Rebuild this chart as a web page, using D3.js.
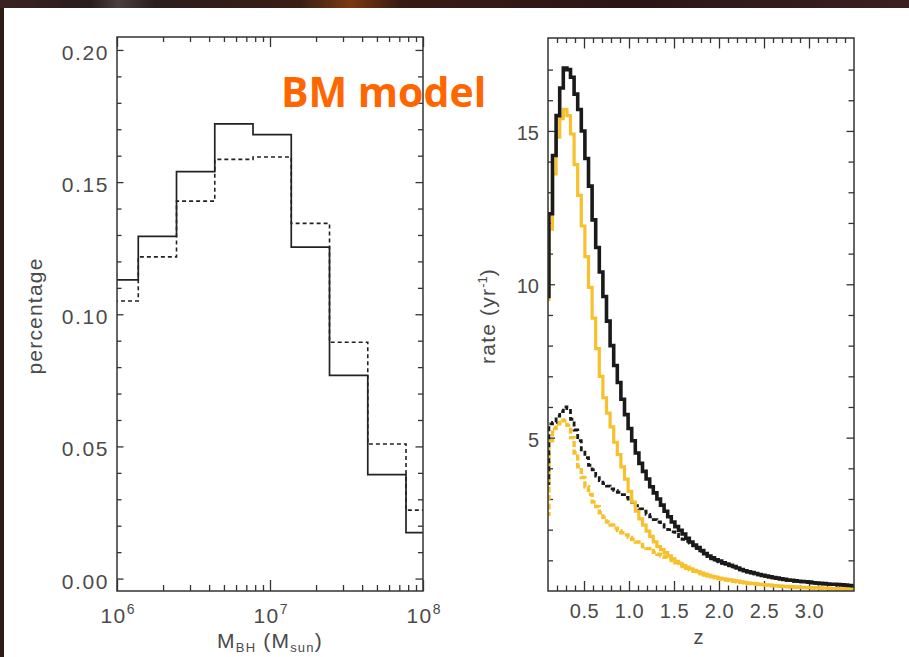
<!DOCTYPE html>
<html>
<head>
<meta charset="utf-8">
<script src="https://cdn.jsdelivr.net/npm/d3@7"></script>
<style>
  body { margin: 0; background: #1c1210; }
  svg { display: block; }
</style>
</head>
<body>
<svg id="fig" width="909" height="657"></svg>
<script>
// ---------------- data ----------------
// left panel: fraction of black holes per log10(M) bin
const massBinStart = 5.889;          // log10 of first bin edge
const massBinWidth = 0.25;           // dex
const pctSolid  = [0.113, 0.1295, 0.154, 0.172, 0.168, 0.1254, 0.0769, 0.0393, 0.0174];
const pctDashed = [0.105, 0.1217, 0.1428, 0.1586, 0.1595, 0.1344, 0.0894, 0.0509, 0.0259];
const massMajorTicks = [1e6, 1e7, 1e8];
const pctMajorTicks = [0, 0.05, 0.10, 0.15, 0.20];

// right panel: event rate per redshift bin
const zBinStart = 0.07;
const zBinWidth = 0.04;
const rateBlack = [9.6, 12.3, 14.2, 15.5, 16.4, 17.05, 17.0, 16.75, 16.2, 15.7, 15.0,
  14.1, 13.2, 12.1, 11.2, 10.4, 9.6, 8.8, 8.0, 7.35, 6.8,
  6.25, 5.75, 5.3, 4.9, 4.5, 4.16, 3.9, 3.65, 3.4, 3.2,
  3.0, 2.8, 2.6, 2.42, 2.25, 2.1, 1.98, 1.86, 1.72, 1.6,
  1.5, 1.42, 1.32, 1.22, 1.14, 1.08, 1.02, 0.98, 0.92, 0.88,
  0.84, 0.8, 0.75, 0.7, 0.66, 0.63, 0.6, 0.57, 0.54, 0.51,
  0.49, 0.46, 0.44, 0.42, 0.40, 0.38, 0.36, 0.35, 0.33, 0.32,
  0.31, 0.30, 0.29, 0.27, 0.26, 0.25, 0.24, 0.23, 0.22, 0.22,
  0.21, 0.2, 0.19, 0.18, 0.17];
const rateYellow = [9.5, 11.8, 13.6, 14.8, 15.4, 15.7, 15.5, 14.9, 13.9, 12.9, 11.9,
  10.9, 9.9, 8.9, 7.9, 7.0, 6.3, 5.8, 5.35, 4.85, 4.45,
  4.05, 3.65, 3.25, 2.9, 2.6, 2.35, 2.15, 1.95, 1.78, 1.6,
  1.45, 1.35, 1.25, 1.15, 1.05, 0.97, 0.9, 0.84, 0.78, 0.72,
  0.67, 0.63, 0.59, 0.55, 0.51, 0.48, 0.45, 0.42, 0.4, 0.38,
  0.36, 0.34, 0.32, 0.3, 0.28, 0.26, 0.25, 0.24, 0.22, 0.21,
  0.2, 0.19, 0.18, 0.17, 0.16, 0.15, 0.15, 0.14, 0.13, 0.13,
  0.12, 0.12, 0.11, 0.11, 0.1, 0.1, 0.09, 0.09, 0.08, 0.08,
  0.08, 0.07, 0.07, 0.07, 0.06];
const rateBlackDash = [3.5, 5.45, 5.5, 5.7, 5.85, 6.0, 5.95, 5.6, 5.25, 4.9, 4.6,
  4.35, 4.1, 3.95, 3.75, 3.6, 3.5, 3.42, 3.33, 3.28, 3.22,
  3.14, 3.05, 2.95, 2.88, 2.78, 2.68, 2.6, 2.5, 2.42, 2.33,
  2.25, 2.16, 2.08, 2.0, 1.93, 1.85, 1.77, 1.68, 1.62, 1.56,
  1.47, 1.38, 1.29, 1.2, 1.12, 1.05, 1.0, 0.95, 0.9, 0.86,
  0.82, 0.78, 0.73, 0.69, 0.65, 0.62, 0.59, 0.56, 0.53, 0.5,
  0.48, 0.45, 0.43, 0.41, 0.39, 0.37, 0.35, 0.34, 0.32, 0.31,
  0.3, 0.29, 0.28, 0.26, 0.25, 0.24, 0.23, 0.22, 0.21, 0.21,
  0.2, 0.19, 0.18, 0.17, 0.16];
const rateYellowDash = [2.5, 4.9, 5.3, 5.45, 5.58, 5.55, 5.4, 5.0, 4.5, 4.05, 3.7,
  3.4, 3.15, 2.9, 2.75, 2.55, 2.4, 2.25, 2.15, 2.05, 1.97,
  1.9, 1.83, 1.75, 1.68, 1.6, 1.52, 1.44, 1.38, 1.32, 1.26,
  1.2, 1.14, 1.1, 1.06, 0.99, 0.92, 0.86, 0.8, 0.74, 0.69,
  0.64, 0.6, 0.56, 0.52, 0.49, 0.46, 0.43, 0.4, 0.38, 0.36,
  0.34, 0.32, 0.3, 0.28, 0.27, 0.25, 0.24, 0.23, 0.21, 0.2,
  0.19, 0.18, 0.17, 0.16, 0.15, 0.14, 0.14, 0.13, 0.12, 0.12,
  0.11, 0.11, 0.1, 0.1, 0.09, 0.09, 0.08, 0.08, 0.08, 0.07,
  0.07, 0.07, 0.06, 0.06, 0.06];
const zMajorTicks = [0.5, 1.0, 1.5, 2.0, 2.5, 3.0];
const rateMajorTicks = [5, 10, 15];

// ---------------- layout ----------------
const LEFT  = {x0: 117, x1: 423, y0: 37, y1: 591};
const RIGHT = {x0: 548, x1: 854, y0: 38, y1: 591};
const AXIS_COLOR = "#333";
const LABEL_COLOR = "#4a4a4a";
const FONT = "'Liberation Sans', Arial, sans-serif";
const YELLOW = "#f6c12c";

const svg = d3.select("#fig");
const defs = svg.append("defs");

// dark photo-like background and the white slide area
const bg = defs.append("linearGradient").attr("id", "bg");
[[0, "#3a2422"], [0.1, "#281c1c"], [0.13, "#4a3f3e"], [0.17, "#2a1e1e"],
 [0.33, "#3a1e14"], [0.385, "#7a3812"], [0.44, "#3a1a14"], [0.7, "#2a1616"], [1, "#3c2020"]]
  .forEach(s => bg.append("stop").attr("offset", s[0]).attr("stop-color", s[1]));
svg.append("rect").attr("width", 909).attr("height", 657).attr("fill", "url(#bg)");
svg.append("rect").attr("x", 0).attr("y", 8).attr("width", 4).attr("height", 649).attr("fill", "#2e1c14");
svg.append("rect").attr("x", 4).attr("y", 8).attr("width", 905).attr("height", 649).attr("fill", "#fff");

// ---------------- scales ----------------
const xMass = d3.scaleLog().domain([1e6, 1e8]).range([LEFT.x0, LEFT.x1]);
const yPct = d3.scaleLinear().domain([-0.0047, 0.2049]).range([LEFT.y1, LEFT.y0]);
const xZ = d3.scaleLinear().domain([0.1, 3.5]).range([RIGHT.x0, RIGHT.x1]);
const yRate = d3.scaleLinear().domain([0, 18.03]).range([RIGHT.y1, RIGHT.y0]);

function clip(id, b) {
  defs.append("clipPath").attr("id", id).append("rect")
    .attr("x", b.x0).attr("y", b.y0).attr("width", b.x1 - b.x0).attr("height", b.y1 - b.y0);
}
clip("clipL", LEFT);
clip("clipR", RIGHT);

// histogram outline as a step line
function stepPoints(values, start, width) {
  const pts = values.map((v, i) => [start + i * width, v]);
  pts.push([start + values.length * width, values[values.length - 1]]);
  return pts;
}

// ---------------- ticks ----------------
function ticks(axisFn, scale, values, size, transform) {
  const g = svg.append("g")
    .attr("transform", transform)
    .call(axisFn(scale).tickValues(values).tickSize(-size).tickFormat(""));
  g.select(".domain").remove();
  g.selectAll("line").attr("stroke", AXIS_COLOR).attr("stroke-width", 1.3);
  return g;
}

// left panel ticks
const massMinor = [];
[1e6, 1e7].forEach(d => { for (let k = 2; k <= 9; k++) massMinor.push(d * k); });
const pctMinor = d3.range(0, 0.2001, 0.01).filter(v => Math.abs(v * 20 - Math.round(v * 20)) > 1e-6);

ticks(d3.axisBottom, xMass, massMinor, 6, `translate(0,${LEFT.y1})`);
ticks(d3.axisTop, xMass, massMinor, 5, `translate(0,${LEFT.y0})`);
ticks(d3.axisTop, xMass, massMajorTicks, 10, `translate(0,${LEFT.y0})`);
ticks(d3.axisLeft, yPct, pctMinor, 4.5, `translate(${LEFT.x0},0)`);
ticks(d3.axisRight, yPct, pctMinor, 5, `translate(${LEFT.x1},0)`);
ticks(d3.axisRight, yPct, pctMajorTicks, 7.5, `translate(${LEFT.x1},0)`);

const gMassX = ticks(d3.axisBottom, xMass, massMajorTicks, 11, `translate(0,${LEFT.y1})`);
gMassX.selectAll(".tick text").each(function (d) {
  const t = d3.select(this).attr("y", 32).attr("dy", 0)
    .attr("fill", LABEL_COLOR).attr("font-family", FONT).attr("font-size", 21)
    .attr("letter-spacing", 1.5).attr("text-anchor", "middle");
  t.append("tspan").text("10");
  t.append("tspan").attr("dy", -9).attr("font-size", 14).attr("letter-spacing", 0)
    .text(Math.round(Math.log10(d)));
});

const gPctY = ticks(d3.axisLeft, yPct, pctMajorTicks, 6.5, `translate(${LEFT.x0},0)`);
gPctY.selectAll(".tick text")
  .text(d => d3.format(".2f")(d))
  .attr("x", -8).attr("dy", "0.45em")
  .attr("fill", LABEL_COLOR).attr("font-family", FONT).attr("font-size", 21)
  .attr("letter-spacing", 1.6).attr("text-anchor", "end");

// right panel ticks
const zMinor = d3.range(0.2, 3.45, 0.1).filter(v => Math.abs(v * 2 - Math.round(v * 2)) > 1e-6);
const rateMinor = d3.range(1, 18, 1).filter(v => v % 5 !== 0);

ticks(d3.axisBottom, xZ, zMinor, 5.5, `translate(0,${RIGHT.y1})`);
ticks(d3.axisTop, xZ, zMinor, 5, `translate(0,${RIGHT.y0})`);
ticks(d3.axisTop, xZ, zMajorTicks, 10.5, `translate(0,${RIGHT.y0})`);
ticks(d3.axisLeft, yRate, rateMinor, 5, `translate(${RIGHT.x0},0)`);
ticks(d3.axisRight, yRate, rateMinor, 5.5, `translate(${RIGHT.x1},0)`);
ticks(d3.axisRight, yRate, rateMajorTicks, 7.5, `translate(${RIGHT.x1},0)`);

const gZX = ticks(d3.axisBottom, xZ, zMajorTicks, 10, `translate(0,${RIGHT.y1})`);
gZX.selectAll(".tick text")
  .text(d => d3.format(".1f")(d))
  .attr("y", 27).attr("dy", 0)
  .attr("fill", LABEL_COLOR).attr("font-family", FONT).attr("font-size", 20)
  .attr("letter-spacing", 0.5).attr("text-anchor", "middle");

const gRateY = ticks(d3.axisLeft, yRate, rateMajorTicks, 7, `translate(${RIGHT.x0},0)`);
gRateY.selectAll(".tick text")
  .text(d => d)
  .attr("x", -9).attr("dy", "0.42em")
  .attr("fill", LABEL_COLOR).attr("font-family", FONT).attr("font-size", 20)
  .attr("text-anchor", "end");

// ---------------- curves ----------------
const massLine = d3.line()
  .x(d => xMass(Math.pow(10, d[0])))
  .y(d => yPct(d[1]))
  .curve(d3.curveStepAfter);

const histL = svg.append("g").attr("clip-path", "url(#clipL)");
histL.append("path")
  .attr("d", massLine(stepPoints(pctDashed, massBinStart, massBinWidth)))
  .attr("fill", "none").attr("stroke", "#222").attr("stroke-width", 1.6)
  .attr("stroke-dasharray", "4,3");
histL.append("path")
  .attr("d", massLine(stepPoints(pctSolid, massBinStart, massBinWidth)))
  .attr("fill", "none").attr("stroke", "#222").attr("stroke-width", 1.7);

const zLine = d3.line()
  .x(d => xZ(d[0]))
  .y(d => yRate(d[1]))
  .curve(d3.curveStepAfter);

const rateSeries = [
  {values: rateYellowDash, color: YELLOW, width: 3.4, dash: "6,2.5"},
  {values: rateBlackDash, color: "#1a1a1a", width: 2.8, dash: "5,3"},
  {values: rateYellow, color: YELLOW, width: 3.2, dash: null},
  {values: rateBlack, color: "#1a1a1a", width: 3.6, dash: null}
];
const histR = svg.append("g").attr("clip-path", "url(#clipR)");
rateSeries.forEach(s => {
  histR.append("path")
    .attr("d", zLine(stepPoints(s.values, zBinStart, zBinWidth)))
    .attr("fill", "none")
    .attr("stroke", s.color)
    .attr("stroke-width", s.width)
    .attr("stroke-dasharray", s.dash);
});

// ---------------- frames ----------------
[LEFT, RIGHT].forEach(b => {
  svg.append("rect")
    .attr("x", b.x0).attr("y", b.y0)
    .attr("width", b.x1 - b.x0).attr("height", b.y1 - b.y0)
    .attr("fill", "none").attr("stroke", AXIS_COLOR).attr("stroke-width", 1.5);
});

// ---------------- titles ----------------
const title = (x, y, rot) => svg.append("text")
  .attr("transform", `translate(${x},${y})` + (rot ? " rotate(-90)" : ""))
  .attr("text-anchor", "middle")
  .attr("fill", LABEL_COLOR).attr("font-family", FONT).attr("font-size", 21)
  .attr("letter-spacing", 1.2);

title(42, 316, true).text("percentage");

const tm = title(270, 648, false);
tm.append("tspan").text("M");
tm.append("tspan").attr("font-size", 13).attr("dy", 4).text("BH");
tm.append("tspan").attr("dy", -4).text(" (M");
tm.append("tspan").attr("font-size", 13).attr("dy", 4).text("sun");
tm.append("tspan").attr("dy", -4).text(")");

const tr = title(495, 316, true);
tr.append("tspan").text("rate (yr");
tr.append("tspan").attr("font-size", 13).attr("dy", -8).attr("letter-spacing", 0).text("-1");
tr.append("tspan").attr("dy", 8).text(")");

title(699, 644, false).attr("font-size", 20).text("z");

svg.append("text")
  .attr("x", 281).attr("y", 107)
  .attr("fill", "#ff6600")
  .attr("font-family", "'Open Sans', sans-serif")
  .attr("font-weight", 700)
  .attr("font-size", 41)
  .text("BM model");
</script>
</body>
</html>
